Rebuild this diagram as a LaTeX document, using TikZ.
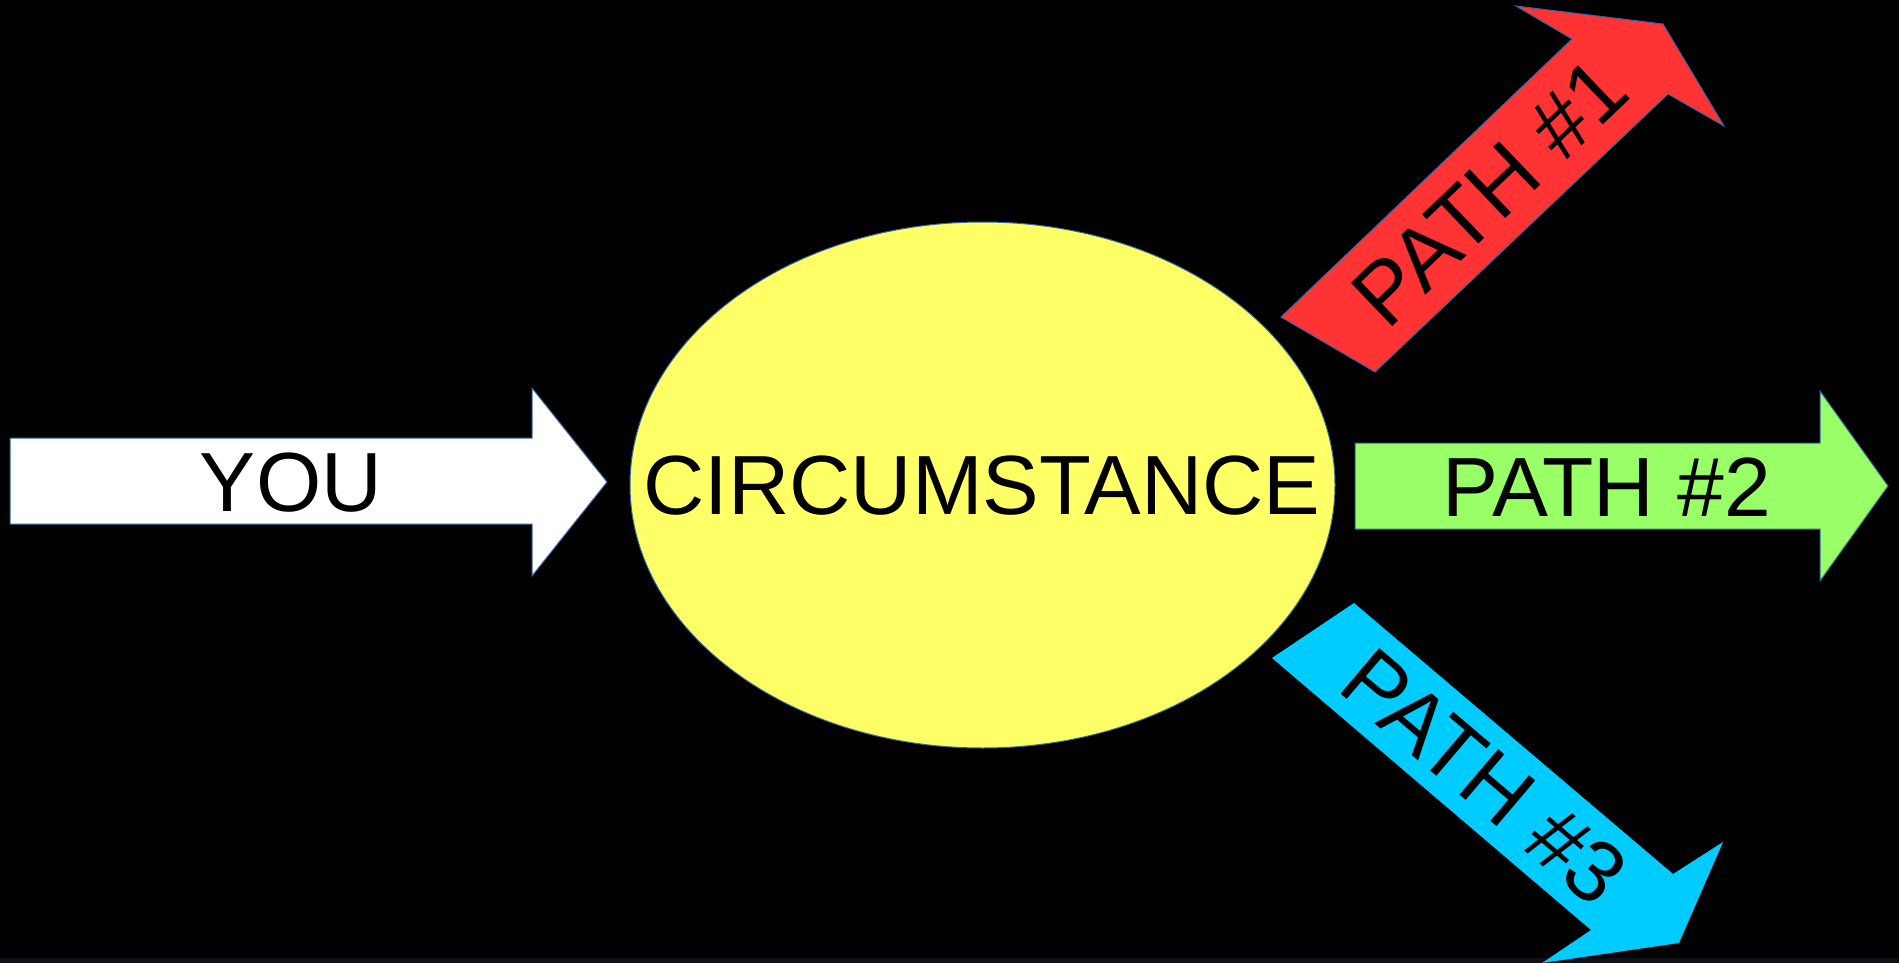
\documentclass[tikz,border=0pt]{standalone}
\usepackage{fontspec}
\setmainfont{Liberation Sans}
\usetikzlibrary{shapes.geometric}
\definecolor{edgeblue}{RGB}{52,101,164}
\definecolor{circyellow}{RGB}{255,255,102}
\definecolor{pathred}{RGB}{255,51,51}
\definecolor{pathgreen}{RGB}{153,255,102}
\definecolor{pathcyan}{RGB}{0,204,255}
\definecolor{stripgray}{RGB}{16,16,26}
\begin{document}
\begin{tikzpicture}[x=1pt,y=-1pt,
  shapeedge/.style={draw=edgeblue,line width=1pt,line join=miter},
  lbl/.style={inner sep=0pt,font=\fontsize{84}{84}\selectfont,text=black},
  rlbl/.style={inner sep=0pt,font=\fontsize{87}{87}\selectfont,text=black}]
\fill[black] (0,0) rectangle (1899,963);
\useasboundingbox (0,0) rectangle (1899,963);
\fill[stripgray] (0,958) rectangle (1899,963);
% YOU arrow
\filldraw[shapeedge,fill=white] (10,438) -- (532,438) -- (532,388) -- (607,482) -- (532,576) -- (532,524) -- (10,524) -- cycle;
% circumstance ellipse
\node[ellipse,shapeedge,fill=circyellow,minimum width=705pt,minimum height=526pt,inner sep=0pt] (circ) at (982.5,485) {};
% PATH #1
\filldraw[shapeedge,fill=pathred] (1281,317) -- (1572,39) -- (1516,6) -- (1663,24) -- (1724,126) -- (1668,94) -- (1375,372) -- cycle;
% PATH #2
\filldraw[shapeedge,fill=pathgreen] (1355,443) -- (1820,443) -- (1820,391) -- (1888,486) -- (1820,581) -- (1820,529) -- (1355,529) -- cycle;
% PATH #3
\fill[pathcyan] (1354,603) -- (1673,874) -- (1723,842) -- (1679,943) -- (1542,963) -- (1591,930) -- (1272,658) -- cycle;
% texts
\node[lbl] (you) at (291,482.5) {YOU};
\node[lbl,xscale=1.01] (circtext) at (982,486) {CIRCUMSTANCE};
\node[lbl] (path2) at (1607,487) {PATH \#2};
\node[rlbl,rotate=43.7] (path1) at (1490,192) {PATH \#1};
\node[rlbl,rotate=-40.35] (path3) at (1484,777) {PATH \#3};
\end{tikzpicture}
\end{document}
